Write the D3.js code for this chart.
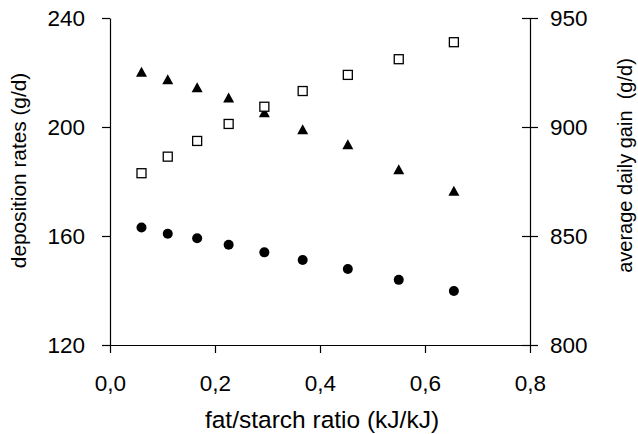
<!DOCTYPE html>
<html>
<head>
<meta charset="utf-8">
<script src="https://cdn.jsdelivr.net/npm/d3@7"></script>
<style>
  body { margin: 0; background: #fff; }
  text { font-family: "Liberation Sans", Arial, sans-serif; fill: #000; }
</style>
</head>
<body>
<svg id="chart"></svg>
<script>
// fat/starch ratio (kJ/kJ)
const ratio = [0.060, 0.110, 0.166, 0.226, 0.294, 0.367, 0.453, 0.550, 0.655];
// deposition rates (g/d), left axis
const depTriangle = [220.3, 217.5, 214.6, 210.8, 205.4, 199.2, 193.7, 184.5, 176.6];
const depCircle = [163.1, 160.8, 159.2, 156.8, 154.0, 151.2, 147.9, 143.9, 139.8];
// average daily gain (g/d), right axis
const adgSquare = [878.8, 886.4, 893.6, 901.4, 909.3, 916.5, 923.9, 931.1, 938.9];

const xTicks = [0, 0.2, 0.4, 0.6, 0.8];
const yLeftTicks = [120, 160, 200, 240];
const yRightTicks = [800, 850, 900, 950];

const svgW = 638, svgH = 434;
const margin = { top: 18, right: 108, bottom: 89, left: 110 };
const width = svgW - margin.left - margin.right;
const height = svgH - margin.top - margin.bottom;

const root = d3.select("#chart").attr("width", svgW).attr("height", svgH);
const svg = root.append("g").attr("transform", `translate(${margin.left},${margin.top})`);

const x = d3.scaleLinear().domain([0, 0.8]).range([0, width]);
const yL = d3.scaleLinear().domain([120, 240]).range([height, 0]);
const yR = d3.scaleLinear().domain([800, 950]).range([height, 0]);
const fmt = d => d3.format(".1f")(d).replace(".", ",");

// axes
const gx = svg.append("g")
  .attr("transform", `translate(0,${height})`)
  .call(d3.axisBottom(x).tickValues(xTicks).tickFormat(fmt).tickSize(8).tickSizeOuter(0).tickPadding(22));
const gl = svg.append("g")
  .call(d3.axisLeft(yL).tickValues(yLeftTicks).tickSize(8).tickSizeOuter(0).tickPadding(17));
const gr = svg.append("g")
  .attr("transform", `translate(${width},0)`)
  .call(d3.axisRight(yR).tickValues(yRightTicks).tickSize(8).tickSizeOuter(0).tickPadding(12));
// right ticks cross the axis
gr.selectAll(".tick line").attr("x1", -8);

[gx, gl, gr].forEach(g => {
  g.select(".domain").attr("stroke", "#000").attr("stroke-width", 1.2);
  g.selectAll(".tick line").attr("stroke", "#000").attr("stroke-width", 1.2);
  g.selectAll(".tick text").style("font-size", "22.5px").style("font-family", "'Liberation Sans', Arial, sans-serif").attr("fill", "#000");
});

// triangle centred on its bounding box
const triType = {
  draw(ctx, size) {
    const s = Math.sqrt(size);
    ctx.moveTo(0, -s / 2);
    ctx.lineTo(s * 0.55, s / 2);
    ctx.lineTo(-s * 0.55, s / 2);
    ctx.closePath();
  }
};

// triangles
svg.selectAll("path.tri")
  .data(ratio.map((r, i) => ({ r, v: depTriangle[i] })))
  .enter().append("path")
  .attr("class", "tri")
  .attr("transform", d => `translate(${x(d.r)},${yL(d.v)})`)
  .attr("d", d3.symbol().type(triType).size(100))
  .attr("fill", "#000");

// squares
svg.selectAll("rect.sq")
  .data(ratio.map((r, i) => ({ r, v: adgSquare[i] })))
  .enter().append("rect")
  .attr("class", "sq")
  .attr("x", d => x(d.r) - 4.5)
  .attr("y", d => yR(d.v) - 4.5)
  .attr("width", 9)
  .attr("height", 9)
  .attr("fill", "#fff")
  .attr("stroke", "#000")
  .attr("stroke-width", 1.3);

// circles
svg.selectAll("circle.dot")
  .data(ratio.map((r, i) => ({ r, v: depCircle[i] })))
  .enter().append("circle")
  .attr("class", "dot")
  .attr("cx", d => x(d.r))
  .attr("cy", d => yL(d.v))
  .attr("r", 5)
  .attr("fill", "#000");

// axis titles
svg.append("text")
  .attr("x", width / 2 + 2)
  .attr("y", height + 83)
  .attr("text-anchor", "middle")
  .style("font-size", "24.5px")
  .text("fat/starch ratio (kJ/kJ)");

svg.append("text")
  .attr("transform", `translate(${-110 + 26},${height / 2 - 11}) rotate(-90)`)
  .attr("text-anchor", "middle")
  .style("font-size", "20.8px")
  .text("deposition rates (g/d)");

svg.append("text")
  .attr("transform", `translate(${width + 102},${height / 2 - 16}) rotate(-90)`)
  .attr("text-anchor", "middle")
  .style("font-size", "20px")
  .style("white-space", "pre")
  .text("average daily gain  (g/d)");
</script>
</body>
</html>
